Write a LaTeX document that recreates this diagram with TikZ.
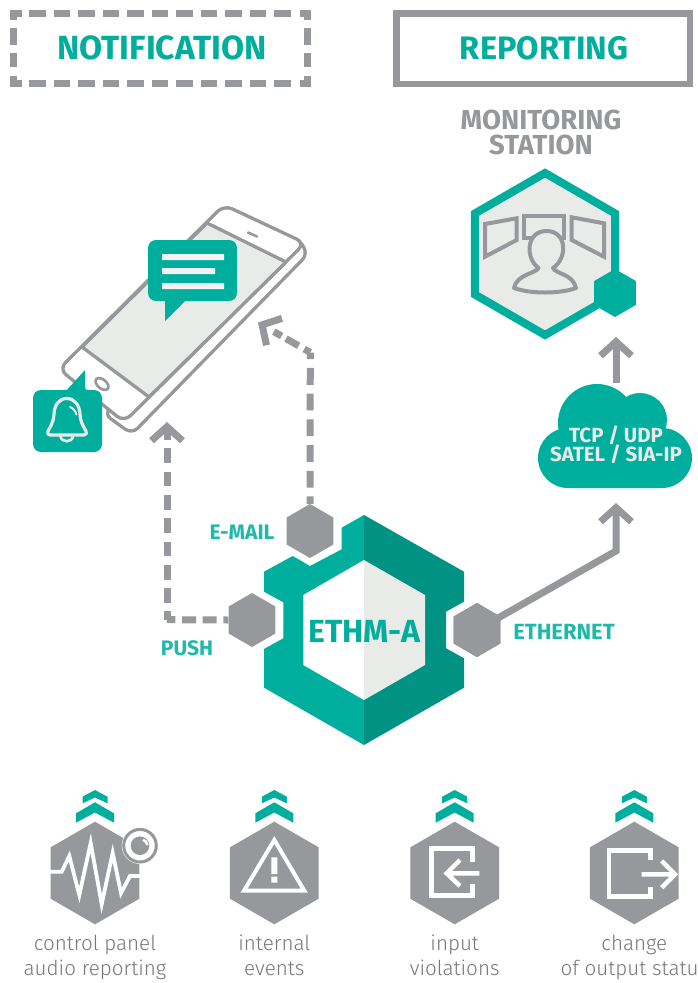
\documentclass[tikz,border=0pt]{standalone}
\usepackage{fontspec}
\setmainfont{Fira Sans}
\newfontfamily\lightf{Fira Sans Light}
\usetikzlibrary{shapes.geometric,arrows.meta}
\definecolor{gr}{HTML}{97989B}
\definecolor{tl}{HTML}{00AE9E}
\definecolor{dt}{HTML}{009282}
\definecolor{lg}{HTML}{E9EBE9}
\definecolor{lb}{HTML}{1FB9A9}
\definecolor{tg}{HTML}{75777A}
\tikzset{
 hexn/.style={regular polygon,regular polygon sides=6,shape border rotate=30,fill=gr,inner sep=0pt,minimum size=54pt},
 flow/.style={draw=gr,line width=7pt,line join=miter,-{Straight Barb[length=14pt,width=31pt]}},
 plainflow/.style={draw=gr,line width=7pt,line join=miter},
 boxdash/.style={gr,line width=7pt,dash pattern=on 16.3pt off 8.2pt},
 boxcorner/.style={gr,line width=7pt,line join=miter},
 headtext/.style={font=\bfseries\fontsize{33.5}{33.5}\selectfont,text=tl},
 lab/.style={font=\bfseries\fontsize{21}{21}\selectfont,text=lb},
 gray head/.style={font=\bfseries\fontsize{27.5}{25}\selectfont,text=gr,align=center},
 captext/.style={font=\lightf\fontsize{20.6}{25}\selectfont,text=tg,align=center},
 phone/.style={draw=gr,line width=3.3pt,line join=round},
 icon/.style={draw=white,line width=4pt,line join=miter},
}
\newcommand{\chevs}[1]{%
 \fill[tl] (#1-19,813.3)--(#1,802.3)--(#1+19,813.3)--(#1+19,822.7)--(#1,812.5)--(#1-19,822.7)--cycle;
 \fill[tl] (#1-12.5,796.7)--(#1,790)--(#1+12.5,796.7)--(#1+12.5,803.3)--(#1,797.5)--(#1-12.5,803.3)--cycle;
}
\begin{document}
\begin{tikzpicture}[x=1pt,y=-1pt]
\useasboundingbox (0,0) rectangle (697,983);
% header boxes
\draw[boxdash] (29.3,13)--(292,13) (29.3,83)--(292,83);
\draw[boxdash] (13.5,28.3)--(13.5,67) (307.5,28.3)--(307.5,67);
\draw[boxcorner] (13.5,20)--(13.5,13)--(21.7,13) (300,13)--(307.5,13)--(307.5,20) (13.5,76)--(13.5,83)--(21.7,83) (300,83)--(307.5,83)--(307.5,76);
\draw[gr,line width=6.5pt] (396.5,13.5) rectangle (690,84);
\node[headtext] (nt) at (162,48) {NOTIFICATION};
\node[headtext,font=\bfseries\fontsize{32.5}{32.5}\selectfont] (rp) at (544,48) {REPORTING};
\node[gray head] (ms) at (541,132.5) {MONITORING\\STATION};
% phone
\draw[phone,fill=white,rounded corners=8pt] (298,238)--(308,254)--(132,434)--(104,414)--cycle;
\draw[phone,fill=white,rounded corners=9pt] (224,205)--(305,243)--(124,422)--(59,369)--cycle;
\fill[lg] (207,223)--(286,262)--(149,397)--(82,347)--cycle;
\draw[phone] (207,223)--(286,262) (149,397)--(82,347) (207,223)--(82,347) (286,262)--(149,397);
\draw[phone,line width=2.7pt,rotate around={-40:(102,384)}] (102,384) ellipse (7.5pt and 4.5pt);
\draw[phone,line width=2.5pt,line cap=round] (248,232.5)--(257,236.5);
% chat bubble
\fill[tl,rounded corners=8pt] (148,240) rectangle (237,301);
\fill[tl] (165,298)--(165,321)--(185,301)--(185,298)--cycle;
\fill[lg!60!white] (162,254) rectangle (224,260) (162,268) rectangle (215,274) (162,283) rectangle (224,289);
% bell bubble
\fill[tl,rounded corners=8pt] (33,390) rectangle (102,452);
\fill[tl] (65,392)--(85,370)--(85,392)--cycle;
\draw[lg,line width=3.2pt,line join=round,line cap=round] (66.7,398.5) .. controls (59,398.5) and (54.5,405) .. (54,414) .. controls (53.5,423) and (50,427) .. (48,431) .. controls (47,433.5) and (48,435) .. (50,435) -- (84,435) .. controls (86.5,435) and (87,433) .. (86,431) .. controls (83,426) and (80.5,422) .. (80,414) .. controls (79.5,405) and (74.5,398.5) .. (66.7,398.5) -- cycle;
\draw[lg,line width=2.7pt] (60.5,436) .. controls (61,443) and (72.5,443) .. (73,436);
\draw[lg,line width=2pt,line cap=round] (70,407) .. controls (73,408) and (75.5,411) .. (76.5,414.5);
% main hexagon
\fill[tl] (364,515)--(341.7,527.7)--(341.7,549.3)--(310,566)--(292.7,556)--(264,571.7)--(264,591.7)--(283.3,602.3)--(283.3,638.3)--(264,649)--(264,687.7)--(364,745)--cycle;
\fill[dt] (364,515)--(464,571.7)--(464,601.7)--(446,611.7)--(446,648.3)--(464,658.3)--(464,687.7)--(364,745)--cycle;
\fill[white] (364,560)--(303.3,595)--(303.3,665)--(364,700)--cycle;
\fill[lg] (364,560)--(425,595)--(425,665)--(364,700)--cycle;
\node[font=\bfseries\fontsize{32}{32}\selectfont,text=tl] (eth) at (364.5,631) {ETHM-A};
% small hexagons
\node[hexn] (em) at (310,531) {};
\node[hexn] (pu) at (252,620) {};
\node[hexn] (et) at (477,630) {};
\node[lab] (eml) at (242,532) {E-MAIL};
\node[lab] (pul) at (187,648) {PUSH};
\node[lab,font=\bfseries\fontsize{22}{22}\selectfont] (etl) at (564,632) {ETHERNET};
% monitoring station
\node[regular polygon,regular polygon sides=6,shape border rotate=30,fill=lg,draw=tl,line width=8pt,inner sep=0pt,minimum size=162pt] (st) at (545,254) {};
\begin{scope}[draw=gr,line width=4pt,line join=miter]
\draw (485,224)--(516.7,218.3)--(516.7,240)--(485,256.7)--cycle;
\draw (524.3,216) rectangle (564.3,238);
\draw (571.7,217.3)--(604,223.3)--(604,256.7)--(571.7,240)--cycle;
\draw[fill=lg,line join=round] (538.5,268) .. controls (525,258) and (526,231) .. (546.5,231) .. controls (567,231) and (568,258) .. (553,268) .. controls (556,274) and (573,274) .. (576,288) .. controls (560,294) and (530,294) .. (514,288) .. controls (517,274) and (535,274) .. (538.5,268) -- cycle;
\end{scope}
\node[regular polygon,regular polygon sides=6,shape border rotate=30,fill=tl,inner sep=0pt,minimum size=48pt] (sth) at (615,293) {};
% cloud
\fill[tl] (568,458) circle (30pt) (662,458) circle (30pt) (597,423) circle (39pt) (640,420) circle (27pt) (568,430) rectangle (662,488);
\node[font=\bfseries\fontsize{20.5}{19.3}\selectfont,text=lg,align=center] (cl) at (616,444.5) {TCP / UDP\\SATEL / SIA-IP};
% connectors
\coordinate (b1) at (310.3,352.5);
\coordinate (b2) at (167,619.7);
\coordinate (b3) at (616,551);
\coordinate (t1) at (258,322.5);
\coordinate (t2) at (167,422);
\coordinate (t3) at (616,503);
\coordinate (t4) at (616,337);
\coordinate (c4) at (616,383);
\draw[plainflow,dash pattern=on 16.8pt off 8.9pt,dash phase=9.5pt] (em.north)--(b1);
\draw[flow,dash pattern=on 7pt off 6.5pt on 14.5pt off 5pt on 9pt off 100pt] (b1)--(t1);
\draw[plainflow,dash pattern=on 14pt off 6.7pt,dash phase=9pt] (pu.west)--(b2);
\draw[flow,dash pattern=on 14.7pt off 8.6pt,dash phase=6.4pt] (b2)--(t2);
\draw[flow] (et.center)--(b3)--(t3);
\draw[flow] (c4)--(t4);
\node[hexn] at (477,630) {};
% bottom icons
\chevs{95}\chevs{274.3}\chevs{454.7}\chevs{634.3}
\node[hexn,minimum size=102.6pt] (i1) at (95,873) {};
\node[hexn,minimum size=102.6pt] (i2) at (274.3,873) {};
\node[hexn,minimum size=102.6pt] (i3) at (454.7,873) {};
\node[hexn,minimum size=102.6pt] (i4) at (634.3,873) {};
\draw[icon,line width=3.8pt,miter limit=20] (50,871.7)--(61.7,871.7)--(69.3,856)--(79.3,895)--(90.7,843)--(101.7,904)--(112.7,853)--(121,893)--(130,876)--(141,876);
\fill[white] (140,845.7) circle (18.3pt);
\draw[gr,line width=3pt] (140,845.7) circle (16.3pt);
\fill[gr] (140,845.7) circle (9.3pt);
\draw[white,line width=2.5pt] (143,839.8) .. controls (145.5,840.5) and (147,842.5) .. (147.5,845);
\draw[icon] (274.3,840)--(304.3,890.7)--(244,890.7)--cycle;
\fill[white] (271.3,857.3) rectangle (277.3,874) (271.3,876.7) rectangle (277.3,882.7);
\draw[icon,line width=4.5pt] (472.7,861.7)--(472.7,848.7)--(431.7,848.7)--(431.7,895.7)--(472.7,895.7)--(472.7,884);
\draw[icon,line width=4.5pt] (479.3,873.3)--(447,873.3) (460,860)--(446.7,873.3)--(460,886);
\draw[icon,line width=4.5pt] (650.7,860)--(650.7,850.7)--(609,850.7)--(609,896.7)--(650.7,896.7)--(650.7,887);
\draw[icon,line width=4.5pt] (641.7,874.3)--(675,874.3) (661.7,861)--(675,874.3)--(661.7,887.7);
\node[captext] (c1) at (95,957.5) {\strut control panel\\\strut audio reporting};
\node[captext] (c2) at (274.3,957.5) {\strut internal\\\strut events};
\node[captext] (c3) at (454.7,957.5) {\strut input\\\strut violations};
\node[captext] (c4l) at (634.3,957.5) {\strut change\\\strut of output status};
\end{tikzpicture}
\end{document}
